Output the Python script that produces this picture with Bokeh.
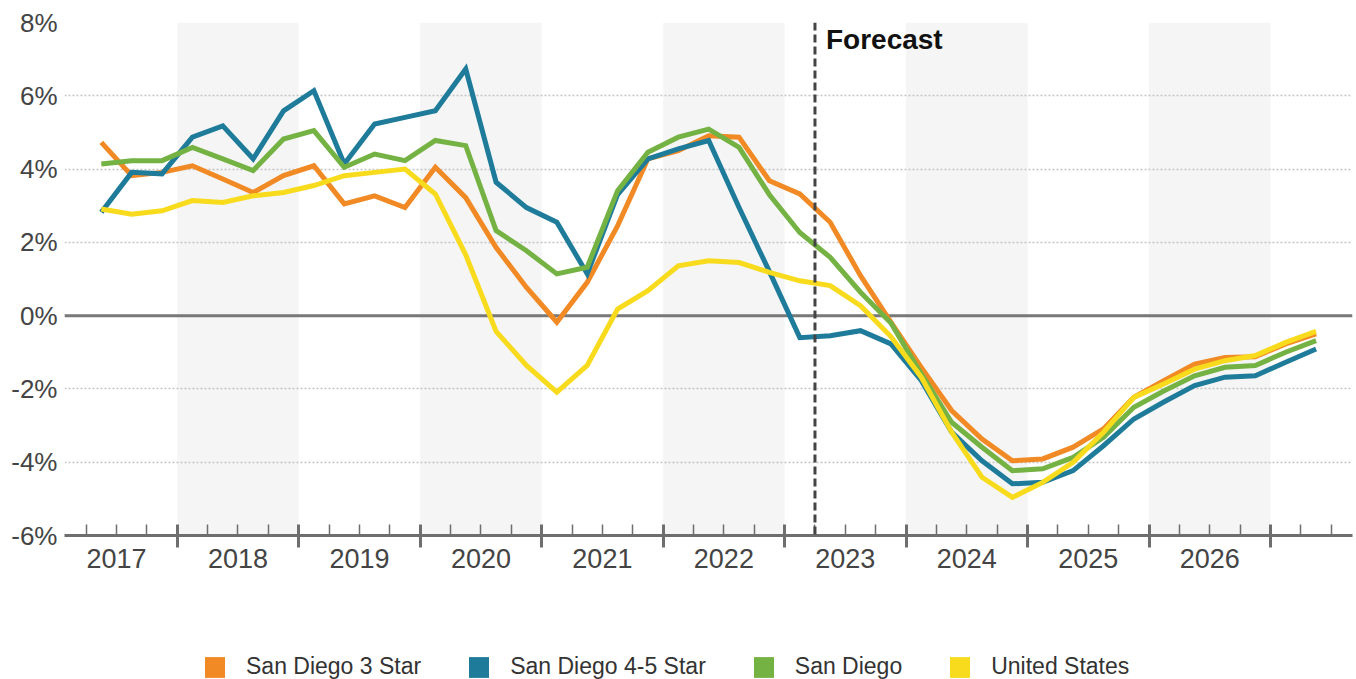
from bokeh.plotting import figure
from bokeh.layouts import column
from bokeh.models import (FixedTicker, LinearAxis, Range1d, BoxAnnotation, Span,
                          Label, Legend, LegendItem)
from bokeh.embed import file_html
from bokeh.resources import INLINE

# ---------------- data ----------------
periods = [f"{y}Q{q}" for y in range(2017, 2028) for q in range(1, 5)][1:42]  # 2017Q2 .. 2027Q2

sd_3star = [4.73, 3.82, 3.91, 4.09, 3.73, 3.36, 3.82, 4.09, 3.05, 3.27, 2.95, 4.05,
            3.22, 1.86, 0.77, -0.18, 0.91, 2.45, 4.28, 4.50, 4.91, 4.87, 3.68, 3.32,
            2.55, 1.09, -0.18, -1.41, -2.59, -3.37, -3.96, -3.91, -3.59, -3.09, -2.23,
            -1.77, -1.32, -1.14, -1.12, -0.77, -0.50]
sd_45star = [2.82, 3.91, 3.87, 4.87, 5.18, 4.28, 5.59, 6.14, 4.14, 5.23, 5.41, 5.59,
             6.73, 3.64, 2.95, 2.55, 1.14, 3.30, 4.28, 4.55, 4.78, 2.95, 1.20, -0.60,
             -0.55, -0.41, -0.77, -1.77, -3.18, -3.96, -4.59, -4.55, -4.23, -3.55, -2.82,
             -2.35, -1.91, -1.68, -1.64, -1.27, -0.91]
sd_all = [4.14, 4.23, 4.23, 4.59, 4.28, 3.96, 4.82, 5.05, 4.05, 4.41, 4.23, 4.78,
          4.64, 2.32, 1.77, 1.14, 1.32, 3.41, 4.46, 4.87, 5.09, 4.59, 3.30, 2.27,
          1.59, 0.64, -0.20, -1.59, -2.91, -3.59, -4.23, -4.18, -3.87, -3.32, -2.50,
          -2.05, -1.64, -1.41, -1.36, -1.00, -0.68]
us = [2.91, 2.77, 2.86, 3.14, 3.09, 3.27, 3.36, 3.55, 3.82, 3.91, 4.00, 3.32,
      1.66, -0.43, -1.36, -2.09, -1.36, 0.18, 0.68, 1.36, 1.50, 1.45, 1.18, 0.95,
      0.82, 0.27, -0.57, -1.68, -3.18, -4.41, -4.96, -4.55, -4.00, -3.18, -2.23,
      -1.86, -1.46, -1.23, -1.09, -0.73, -0.43]

series_names = ["San Diego 3 Star", "San Diego 4-5 Star", "San Diego", "United States"]
series_values = [sd_3star, sd_45star, sd_all, us]
series_colors = ["#F18A24", "#1E7B9A", "#75B244", "#F7DB1C"]

year_labels = [str(y) for y in range(2017, 2027)]
shaded_years = [2018, 2020, 2022, 2024, 2026]
y_ticks = [-6, -4, -2, 0, 2, 4, 6, 8]
y_tick_labels = ["-6%", "-4%", "-2%", "0%", "2%", "4%", "6%", "8%"]
forecast_start = "2023Q2"

# ---------------- helpers ----------------
def period_mid(p):
    y, q = p.split("Q")
    return int(y) + (int(q) - 1) / 4 + 0.125

def period_start(p):
    y, q = p.split("Q")
    return int(y) + (int(q) - 1) / 4

x = [period_mid(p) for p in periods]

FONT = "Liberation Sans"
AXIS_GREY = "#6e6e6e"
TEXT_GREY = "#444444"

p = figure(width=1356, height=600, output_backend="svg", toolbar_location=None,
           x_range=Range1d(2017.072, 2027.675), y_range=Range1d(-6, 8),
           min_border_left=64, min_border_right=4, min_border_top=22,
           min_border_bottom=65)
p.outline_line_color = None
p.background_fill_color = "white"

# shaded year bands
for yr in shaded_years:
    p.add_layout(BoxAnnotation(left=yr, right=yr + 1, fill_color="#f5f5f5",
                               fill_alpha=1, line_color=None, level="image"))

# grid
p.xgrid.grid_line_color = None
p.ygrid.ticker = FixedTicker(ticks=y_ticks)
p.ygrid.grid_line_color = "#c4c4c4"
p.ygrid.grid_line_dash = "2 2"
p.ygrid.grid_line_width = 1.5

# zero line
p.add_layout(Span(location=0, dimension="width", line_color="#787878",
                  line_width=3, level="underlay"))

# lines
for vals, col in zip(series_values, series_colors):
    p.line(x, vals, line_color=col, line_width=5, line_join="miter")

# forecast divider
fx = period_start(forecast_start)
p.add_layout(Span(location=fx, dimension="height", line_color="#444444",
                  line_width=3, line_dash="8 4"))
p.add_layout(Label(x=fx, y=8, x_offset=11, y_offset=-17, text="Forecast",
                   text_font=FONT, text_font_style="bold", text_font_size="28px",
                   text_color="#111111", text_baseline="alphabetic"))

# y axis
ya = p.yaxis[0]
ya.ticker = FixedTicker(ticks=y_ticks)
ya.major_label_overrides = {t: l for t, l in zip(y_ticks, y_tick_labels)}
ya.axis_line_color = None
ya.major_tick_line_color = None
ya.major_tick_out = 0
ya.major_tick_in = 0
ya.minor_tick_line_color = None
ya.minor_tick_out = 0
ya.major_label_standoff = 7
ya.major_label_text_font = FONT
ya.major_label_text_font_size = "26px"
ya.major_label_text_color = TEXT_GREY

# x axis (ticks): year boundaries major, quarter boundaries minor
years_num = [int(y) for y in year_labels]
bounds = [y for y in years_num[1:]] + [years_num[-1] + 1]
quarters = [y + q / 4 for y in years_num + [years_num[-1] + 1] for q in (1, 2, 3)]
xa = p.xaxis[0]
xa.ticker = FixedTicker(ticks=bounds, minor_ticks=quarters)
xa.major_label_overrides = {b: "" for b in bounds}
xa.major_label_text_font_size = "0px"
xa.major_label_standoff = 0
xa.axis_line_color = AXIS_GREY
xa.axis_line_width = 3
xa.major_tick_line_color = AXIS_GREY
xa.major_tick_line_width = 3
xa.major_tick_in = 11
xa.major_tick_out = 12
xa.minor_tick_line_color = AXIS_GREY
xa.minor_tick_line_width = 1.5
xa.minor_tick_in = 11
xa.minor_tick_out = 0

# x axis (labels) at year centres
mids = [y + 0.5 for y in years_num]
xb = LinearAxis(ticker=FixedTicker(ticks=mids, minor_ticks=[]),
                major_label_overrides={m: l for m, l in zip(mids, year_labels)},
                axis_line_color=None, major_tick_line_color=None,
                major_tick_in=0, major_tick_out=0,
                minor_tick_line_color=None, minor_tick_in=0, minor_tick_out=0,
                major_label_standoff=1,
                major_label_text_font=FONT, major_label_text_font_size="27px",
                major_label_text_color=TEXT_GREY)
p.add_layout(xb, "below")

# legend strip (separate figure under the chart)
lg = figure(width=1356, height=79, output_backend="svg", toolbar_location=None,
            x_range=Range1d(0, 1), y_range=Range1d(0, 1),
            x_axis_location=None, y_axis_location=None,
            min_border_left=0, min_border_right=0, min_border_top=0, min_border_bottom=0)
lg.outline_line_color = None
lg.xgrid.visible = False
lg.ygrid.visible = False
nan = float("nan")
items = []
for name, col in zip(series_names, series_colors):
    # placeholder swatch renderer (no visible data), used only for the legend key
    r = lg.quad(left=[nan], right=[nan], top=[nan], bottom=[nan],
                fill_color=col, line_color=None)
    items.append(LegendItem(label=name, renderers=[r]))
legend = Legend(items=items, orientation="horizontal", location=(138, -1),
                glyph_width=25, glyph_height=26, label_standoff=19, spacing=45,
                padding=0, margin=0, border_line_color=None,
                background_fill_alpha=0, label_text_font=FONT,
                label_text_font_size="23px", label_text_color="#333333")
lg.add_layout(legend, "center")

layout = column(p, lg, spacing=0)
open("out.html", "w").write(file_html(layout, INLINE))
